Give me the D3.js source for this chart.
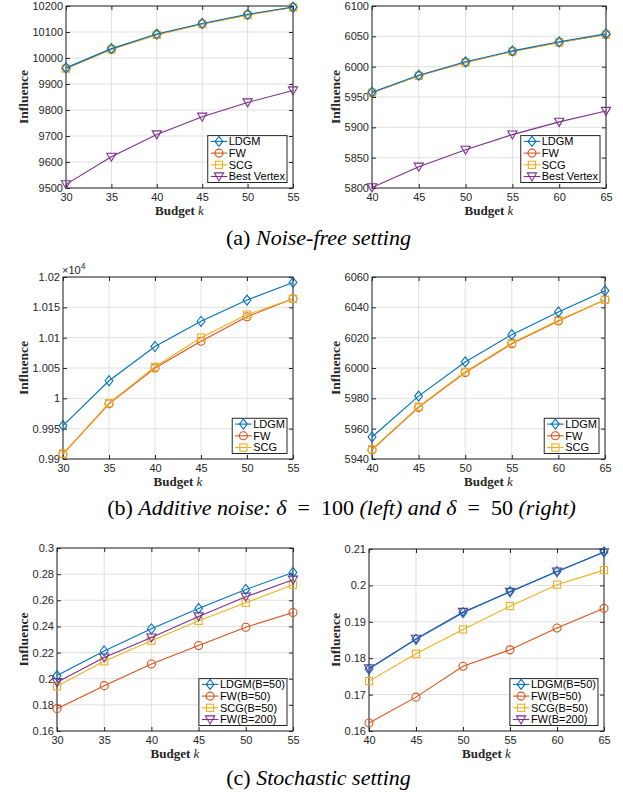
<!DOCTYPE html>
<html>
<head>
<meta charset="utf-8">
<script src="https://cdn.jsdelivr.net/npm/d3@7"></script>
<style>
  body { margin: 0; background: #fff; }
  svg { display: block; }
</style>
</head>
<body>
<svg width="623" height="796"></svg>
<script>
// ---- data ----
const budgetLeft = [30, 35, 40, 45, 50, 55]
const budgetRight = [40, 45, 50, 55, 60, 65]

// (a) noise-free
const a1LDGM = [9962, 10036, 10092, 10133, 10168, 10196]
const a1FW = [9960, 10034, 10090, 10131, 10166, 10195]
const a1SCG = [9959, 10033, 10089, 10131, 10165, 10194]
const a1BV = [9514, 9620, 9706, 9774, 9829, 9875]
const a1Ticks = [9500, 9600, 9700, 9800, 9900, 10000, 10100, 10200]
const a1Labels = ["9500", "9600", "9700", "9800", "9900", "10000", "10100", "10200"]

const a2LDGM = [5958, 5986, 6008, 6026, 6041, 6054]
const a2FW = [5957, 5985, 6007, 6025, 6040, 6053]
const a2SCG = [5957, 5985, 6007, 6025, 6040, 6053]
const a2BV = [5801, 5835, 5863, 5888, 5909, 5927]
const a2Ticks = [5800, 5850, 5900, 5950, 6000, 6050, 6100]
const a2Labels = ["5800", "5850", "5900", "5950", "6000", "6050", "6100"]

// (b) additive noise
const b1LDGM = [9955, 10029, 10085.5, 10127, 10162, 10191]
const b1FW = [9908, 9991, 10050, 10094, 10134.5, 10164]
const b1SCG = [9909, 9992, 10052, 10100, 10138, 10164]
const b1Ticks = [9900, 9950, 10000, 10050, 10100, 10150, 10200]
const b1Labels = ["0.99", "0.995", "1", "1.005", "1.01", "1.015", "1.02"]

const b2LDGM = [5954.5, 5981.5, 6004, 6022, 6037, 6051]
const b2FW = [5946, 5974, 5997, 6016, 6031, 6045]
const b2SCG = [5946.5, 5974.5, 5997.5, 6016.5, 6031.5, 6045]
const b2Ticks = [5940, 5960, 5980, 6000, 6020, 6040, 6060]
const b2Labels = ["5940", "5960", "5980", "6000", "6020", "6040", "6060"]

// (c) stochastic
const c1LDGM = [0.2024, 0.2212, 0.2382, 0.2538, 0.2683, 0.2813]
const c1FW50 = [0.1771, 0.1947, 0.2113, 0.2254, 0.2394, 0.2507]
const c1SCG = [0.1942, 0.2134, 0.2290, 0.2443, 0.2581, 0.2719]
const c1FW200 = [0.1973, 0.2162, 0.2315, 0.2476, 0.2627, 0.2757]
const c1Ticks = [0.16, 0.18, 0.20, 0.22, 0.24, 0.26, 0.28, 0.30]
const c1Labels = ["0.16", "0.18", "0.2", "0.22", "0.24", "0.26", "0.28", "0.3"]

const c2LDGM = [0.1770, 0.1852, 0.1925, 0.1983, 0.2038, 0.2092]
const c2FW50 = [0.1622, 0.1693, 0.1778, 0.1823, 0.1883, 0.1937]
const c2SCG = [0.1737, 0.1812, 0.1879, 0.1943, 0.2002, 0.2042]
const c2FW200 = [0.1772, 0.1853, 0.1927, 0.1982, 0.2038, 0.2091]
const c2Ticks = [0.16, 0.17, 0.18, 0.19, 0.20, 0.21]
const c2Labels = ["0.16", "0.17", "0.18", "0.19", "0.2", "0.21"]

const namesA = ["LDGM", "FW", "SCG", "Best Vertex"]
const namesB = ["LDGM", "FW", "SCG"]
const namesC = ["LDGM(B=50)", "FW(B=50)", "SCG(B=50)", "FW(B=200)"]

// matlab default colours
const blue = "#0072BD", orange = "#D95319", yellow = "#EDB120", purple = "#7E2F8E"
const ink = "#262626"
const sans = "'Liberation Sans', Arial, sans-serif"
const serif = "'Liberation Serif', 'Times New Roman', serif"

let svg = d3.select("svg")

let panels = [
  {x0: 66, x1: 293, y0: 6, y1: 188, xs: budgetLeft, ticks: a1Ticks, labels: a1Labels,
   series: [[a1LDGM, blue, "d"], [a1FW, orange, "o"], [a1SCG, yellow, "s"], [a1BV, purple, "v"]], names: namesA},
  {x0: 372, x1: 606, y0: 6, y1: 188, xs: budgetRight, ticks: a2Ticks, labels: a2Labels,
   series: [[a2LDGM, blue, "d"], [a2FW, orange, "o"], [a2SCG, yellow, "s"], [a2BV, purple, "v"]], names: namesA},
  {x0: 63, x1: 293, y0: 277, y1: 459, xs: budgetLeft, ticks: b1Ticks, labels: b1Labels, exp: true,
   series: [[b1LDGM, blue, "d"], [b1FW, orange, "o"], [b1SCG, yellow, "s"]], names: namesB},
  {x0: 372, x1: 605, y0: 277, y1: 459, xs: budgetRight, ticks: b2Ticks, labels: b2Labels,
   series: [[b2LDGM, blue, "d"], [b2FW, orange, "o"], [b2SCG, yellow, "s"]], names: namesB},
  {x0: 57, x1: 293, y0: 548, y1: 731, xs: budgetLeft, ticks: c1Ticks, labels: c1Labels,
   series: [[c1LDGM, blue, "d"], [c1FW50, orange, "o"], [c1SCG, yellow, "s"], [c1FW200, purple, "v"]], names: namesC},
  {x0: 369, x1: 604, y0: 549, y1: 731, xs: budgetRight, ticks: c2Ticks, labels: c2Labels,
   series: [[c2LDGM, blue, "d"], [c2FW50, orange, "o"], [c2SCG, yellow, "s"], [c2FW200, purple, "v"]], names: namesC}
]

let marker = (g, type, color) => {
  let m
  if (type == "o") {
    m = g.append("circle").attr("r", 4)
  } else if (type == "s") {
    m = g.append("rect").attr("x", -3.6).attr("y", -3.6).attr("width", 7.2).attr("height", 7.2)
  } else if (type == "d") {
    m = g.append("path").attr("d", "M0,-5L3.9,0L0,5L-3.9,0Z")
  } else {
    m = g.append("path").attr("d", "M-4.6,-3.6L4.6,-3.6L0,4.4Z")
  }
  m.attr("fill", "none").attr("stroke", color).attr("stroke-width", 1.1)
}

panels.forEach((p) => {
  let x = d3.scaleLinear().domain(d3.extent(p.xs)).range([p.x0, p.x1])
  let y = d3.scaleLinear().domain(d3.extent(p.ticks)).range([p.y1, p.y0])
  let g = svg.append("g")

  // grid
  g.append("g").selectAll("line").data(p.xs).enter().append("line")
   .attr("x1", (d) => x(d)).attr("x2", (d) => x(d)).attr("y1", p.y0).attr("y2", p.y1)
   .attr("stroke", "#dfdfdf").attr("stroke-width", 1)
  g.append("g").selectAll("line").data(p.ticks).enter().append("line")
   .attr("x1", p.x0).attr("x2", p.x1).attr("y1", (d) => y(d)).attr("y2", (d) => y(d))
   .attr("stroke", "#dfdfdf").attr("stroke-width", 1)

  // axes, ticks pointing inward
  let fmt = (d) => p.labels[p.ticks.indexOf(d)]
  let axB = g.append("g").attr("transform", "translate(0," + p.y1 + ")")
   .call(d3.axisBottom(x).tickValues(p.xs).tickSize(-4).tickPadding(5.5).tickFormat(d3.format("d")))
  let axT = g.append("g").attr("transform", "translate(0," + p.y0 + ")")
   .call(d3.axisTop(x).tickValues(p.xs).tickSize(-4).tickFormat(""))
  let axL = g.append("g").attr("transform", "translate(" + p.x0 + ",0)")
   .call(d3.axisLeft(y).tickValues(p.ticks).tickSize(-4).tickPadding(3).tickFormat(fmt))
  let axR = g.append("g").attr("transform", "translate(" + p.x1 + ",0)")
   .call(d3.axisRight(y).tickValues(p.ticks).tickSize(-4).tickFormat(""))
  ;[axB, axT, axL, axR].forEach((a) => {
    a.select(".domain").remove()
    a.selectAll("line").attr("stroke", ink)
    a.selectAll("text").attr("fill", ink).style("font-family", sans).style("font-size", "11px")
  })

  g.append("rect").attr("x", p.x0).attr("y", p.y0).attr("width", p.x1 - p.x0).attr("height", p.y1 - p.y0)
   .attr("fill", "none").attr("stroke", ink).attr("stroke-width", 1)

  // series; LDGM drawn last so it sits on top like the original
  let order = p.series.map((s, i) => i).slice(1).concat([0])
  order.forEach((i) => {
    let s = p.series[i]
    let pts = p.xs.map((k, j) => [k, s[0][j]])
    g.append("path").datum(pts)
     .attr("d", d3.line().x((d) => x(d[0])).y((d) => y(d[1])))
     .attr("fill", "none").attr("stroke", s[1]).attr("stroke-width", 1.1)
    pts.forEach((d) => {
      let mg = g.append("g").attr("transform", "translate(" + x(d[0]) + "," + y(d[1]) + ")")
      marker(mg, s[2], s[1])
    })
  })

  // y label, offset from widest tick label
  let tw = d3.max(axL.selectAll("text").nodes(), (n) => n.getComputedTextLength())
  g.append("text")
   .attr("transform", "translate(" + (p.x0 - tw - 12) + "," + ((p.y0 + p.y1) / 2) + ") rotate(-90)")
   .attr("text-anchor", "middle").attr("dominant-baseline", "central")
   .style("font-family", serif)
   .style("font-size", "13.5px").style("font-weight", "bold").attr("fill", ink)
   .text("Influence")

  // x label
  let xl = g.append("text").attr("x", (p.x0 + p.x1) / 2).attr("y", p.y1 + 27)
   .attr("text-anchor", "middle")
   .style("font-family", serif)
   .style("font-size", "13px").attr("fill", ink)
  xl.append("tspan").style("font-weight", "bold").text("Budget ")
  xl.append("tspan").style("font-style", "italic").text("k")

  if (p.exp) {
    let e = g.append("text").attr("x", p.x0 - 1).attr("y", p.y0 - 3.5)
     .style("font-family", sans).style("font-size", "11px").attr("fill", ink)
    e.append("tspan").text("×10")
    e.append("tspan").attr("dy", -4.5).style("font-size", "8.5px").text("4")
  }

  // legend in the lower right corner
  let lg = g.append("g")
  let rows = p.names.length
  let texts = []
  let box = lg.append("rect").attr("fill", "#fff").attr("stroke", ink).attr("stroke-width", 1)
  p.names.forEach((name, i) => {
    let t = lg.append("text").attr("x", 21).attr("y", 5.8 + i * 11.7).attr("dominant-baseline", "central")
     .style("font-family", sans).style("font-size", "11px").attr("fill", "#000")
     .text(name)
    texts.push(t)
    lg.append("line").attr("x1", 3).attr("x2", 19.5).attr("y1", 5.8 + i * 11.7).attr("y2", 5.8 + i * 11.7)
     .attr("stroke", p.series[i][1]).attr("stroke-width", 1.1)
    let mg = lg.append("g").attr("transform", "translate(11.2," + (5.8 + i * 11.7) + ")")
    marker(mg, p.series[i][2], p.series[i][1])
  })
  let lw = 21 + d3.max(texts, (t) => t.node().getComputedTextLength()) + 2
  let lh = 5.8 + (rows - 1) * 11.7 + 6
  box.attr("width", lw).attr("height", lh)
  lg.attr("transform", "translate(" + (p.x1 - 6 - lw) + "," + (p.y1 - 5.5 - lh) + ")")
})

// captions
let cap = (xx, yy, parts) => {
  let t = svg.append("text").attr("x", xx).attr("y", yy).attr("text-anchor", "middle")
   .style("font-family", serif).style("font-size", "22px").attr("fill", "#000")
   .attr("xml:space", "preserve")
  parts.forEach((q) => {
    t.append("tspan").style("font-style", q[1] ? "italic" : "normal").text(q[0])
  })
}
cap(318.5, 244.5, [["(a) ", false], ["Noise-free setting", true]])
cap(341.5, 515, [["(b) ", false], ["Additive noise: δ", true], ["  =  100 ", false], ["(left) and δ", true], ["  =  50 ", false], ["(right)", true]])
cap(318.5, 784.5, [["(c) ", false], ["Stochastic setting", true]])
</script>
</body>
</html>
